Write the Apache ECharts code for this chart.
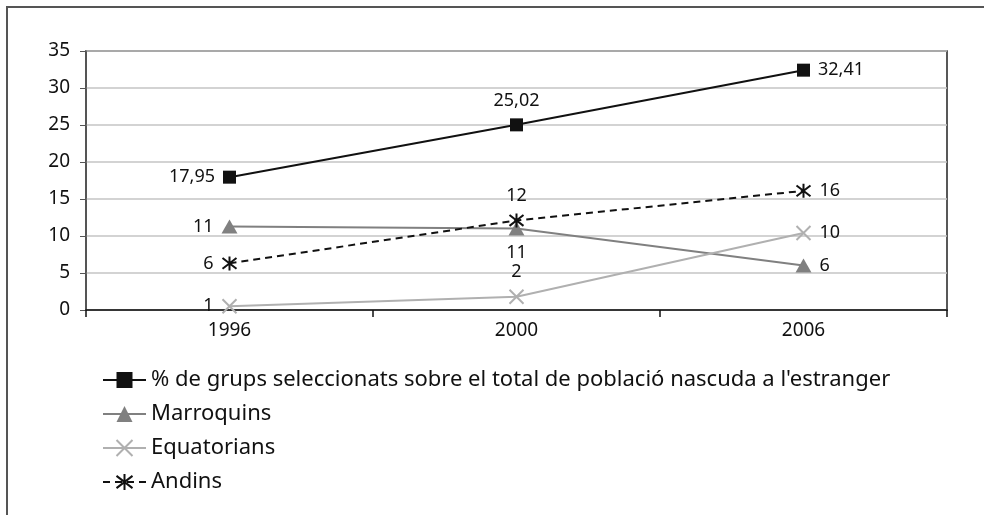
<!DOCTYPE html>
<html>
<head>
<meta charset="utf-8">
<script src="https://cdn.jsdelivr.net/npm/echarts@6/dist/echarts.min.js"></script>
<style>
  html, body { margin: 0; padding: 0; background: #fff; }
  #chart { width: 984px; height: 515px; }
</style>
</head>
<body>
<div id="chart"></div>
<script>
var years = ['1996', '2000', '2006'];
var grupsSeleccionats = [17.95, 25.02, 32.41];
var marroquins = [11.3, 11.0, 6.0];
var equatorians = [0.5, 1.8, 10.4];
var andins = [6.3, 12.1, 16.1];
var yTicks = [0, 5, 10, 15, 20, 25, 30, 35];

// label position per point, as in the original
var posGrups = ['left', 'top', 'right'];
var posMarroquins = ['left', 'bottom', 'right'];
var posEquatorians = ['left', 'top', 'right'];
var posAndins = ['left', 'top', 'right'];

var FONT = '"Noto Sans", sans-serif';
var crossPath = 'path://M0,0L10,10M10,0L0,10';
var starPath = 'path://M0,0L10,10M10,0L0,10M5,-1.5L5,11.5';

function withLabels(values, positions, fmt) {
    return values.map(function (v, i) {
        return {
            value: v,
            label: { position: positions[i], formatter: fmt(v) }
        };
    });
}
function comma(v) { return v.toFixed(2).replace('.', ','); }
function round(v) { return String(Math.round(v)); }

var chart = echarts.init(document.getElementById('chart'));
var labelStyle = { show: true, color: '#111', fontSize: 18, fontFamily: FONT, distance: 8 };

var option = {
    backgroundColor: '#fff',
    animation: false,
    graphic: [{
        type: 'rect',
        shape: { x: 7, y: 7, width: 1000, height: 600 },
        style: { fill: 'none', stroke: '#555', lineWidth: 2 }
    }],
    grid: {
        left: 86, right: 37, top: 51, bottom: 205,
        show: true, borderColor: '#222', borderWidth: 1.5, backgroundColor: 'transparent'
    },
    legend: {
        orient: 'vertical',
        left: 97, top: 364,
        itemWidth: 43, itemHeight: 20,
        itemGap: 12,
        textStyle: { fontSize: 22, lineHeight: 22, fontFamily: FONT, color: '#111' },
        data: [
            "% de grups seleccionats sobre el total de població nascuda a l'estranger",
            'Marroquins', 'Equatorians', 'Andins'
        ]
    },
    xAxis: {
        type: 'category',
        data: years,
        boundaryGap: true,
        axisLine: { lineStyle: { color: '#111', width: 1.5 } },
        axisTick: { show: true, length: 7, lineStyle: { color: '#111', width: 1.5 } },
        axisLabel: { fontSize: 19, fontFamily: FONT, color: '#111', margin: 11 }
    },
    yAxis: {
        type: 'value',
        min: 0, max: 35, interval: 5,
        axisLine: { show: true, lineStyle: { color: '#555', width: 1.5 } },
        axisTick: { show: true, length: 6, lineStyle: { color: '#555' } },
        axisLabel: {
            fontSize: 19, fontFamily: FONT, color: '#111', margin: 16,
            formatter: function (v) { return yTicks.indexOf(v) >= 0 ? String(v) : ''; }
        },
        splitLine: { show: true, lineStyle: { color: '#c4c4c4', width: 1.5 } }
    },
    series: [
        {
            name: "% de grups seleccionats sobre el total de població nascuda a l'estranger",
            type: 'line',
            data: withLabels(grupsSeleccionats, posGrups, comma),
            symbol: 'rect', symbolSize: 13,
            lineStyle: { color: '#111', width: 2 },
            itemStyle: { color: '#111' },
            label: labelStyle,
            z: 5
        },
        {
            name: 'Marroquins',
            type: 'line',
            data: withLabels(marroquins, posMarroquins, round),
            symbol: 'triangle', symbolSize: [16, 14],
            lineStyle: { color: '#808080', width: 2 },
            itemStyle: { color: '#808080' },
            label: labelStyle
        },
        {
            name: 'Equatorians',
            type: 'line',
            data: withLabels(equatorians, posEquatorians, round),
            symbol: crossPath, symbolSize: 14,
            lineStyle: { color: '#b0b0b0', width: 2 },
            itemStyle: { color: '#b0b0b0', borderColor: '#b0b0b0', borderWidth: 2 },
            label: labelStyle
        },
        {
            name: 'Andins',
            type: 'line',
            data: withLabels(andins, posAndins, round),
            symbol: starPath, symbolSize: 14,
            lineStyle: { color: '#111', width: 2, type: [7, 5] },
            itemStyle: { color: '#111', borderColor: '#111', borderWidth: 2 },
            label: labelStyle,
            z: 4
        }
    ]
};
chart.setOption(option);
</script>
</body>
</html>
